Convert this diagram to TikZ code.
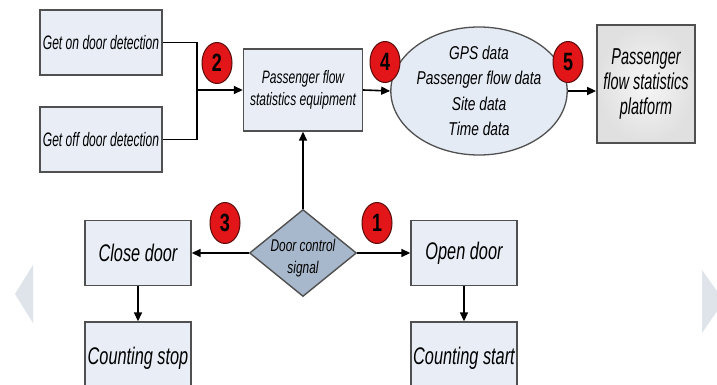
\documentclass[tikz,border=0pt]{standalone}
\usepackage{fontspec}
\setmainfont{Liberation Sans}
\newfontfamily\getfont{Liberation Sans}[FakeStretch=0.62]
\newfontfamily\equipfont{Liberation Sans}[FakeStretch=0.67]
\newfontfamily\ellfont{Liberation Sans}[FakeStretch=0.74]
\newfontfamily\platfont{Liberation Sans}[FakeStretch=0.63]
\newfontfamily\doorfont{Liberation Sans}[FakeStretch=0.68]
\newfontfamily\sigfont{Liberation Sans}[FakeStretch=0.70]
\newfontfamily\numfont{Liberation Sans}[FakeStretch=0.72]
\usetikzlibrary{shapes.geometric,arrows.meta}
\definecolor{boxfill}{RGB}{232,237,246}
\definecolor{boxline}{RGB}{80,80,80}
\definecolor{ellfill}{RGB}{228,235,245}
\definecolor{diafill}{RGB}{168,184,204}
\definecolor{numred}{RGB}{226,22,24}
\definecolor{numline}{RGB}{90,10,10}
\definecolor{chev}{RGB}{222,228,234}
\definecolor{platin}{RGB}{246,246,246}
\definecolor{platout}{RGB}{224,224,224}
\tikzset{
  box/.style={draw=boxline, line width=1.4pt, fill=boxfill, inner sep=0pt, align=center},
  conn/.style={line width=1.6pt, draw=black},
  arr/.style={conn, -{Triangle[length=9pt,width=8pt]}},
  num/.style={ellipse, draw=numline, line width=1pt, fill=numred, inner sep=0pt,
    minimum width=30pt, minimum height=41pt, font=\numfont\bfseries\fontsize{25}{25}\selectfont},
  doorbox/.style={box, minimum width=106pt, font=\doorfont\itshape\fontsize{24}{28}\selectfont},
}
\begin{document}
\begin{tikzpicture}[x=1pt,y=-1pt]
\useasboundingbox (0,0) rectangle (717,385);
\clip (0,0) rectangle (717,385);
\fill[white] (0,0) rectangle (717,385);
% background chevrons
\fill[chev] (15,294) -- (33,265) -- (33,323) -- cycle;
\fill[chev] (702,270) -- (724,301) -- (702,333) -- cycle;
% top row
\node[box, minimum width=122pt, minimum height=65pt, font=\getfont\itshape\fontsize{19.5}{22}\selectfont]
  (geton) at (101,42.5) {Get on door detection};
\node[box, minimum width=122pt, minimum height=65pt, font=\getfont\itshape\fontsize{19.5}{22}\selectfont]
  (getoff) at (101,139.5) {Get off door detection};
\coordinate (j) at (197,90);
\node[box, minimum width=119pt, minimum height=82pt, font=\equipfont\itshape\fontsize{18}{21.5}\selectfont]
  (equip) at (303,90) {Passenger flow\\statistics equipment};
\node[ellipse, draw=boxline, line width=1.3pt, fill=ellfill, inner sep=0pt,
  minimum width=142pt, minimum height=128pt, align=center,
  font=\ellfont\itshape\fontsize{18.6}{25.5}\selectfont]
  (data) at (479,91) {GPS data\\Passenger flow data\\Site data\\Time data};
\node[draw=boxline, line width=1.8pt, inner sep=0pt, minimum width=98pt, minimum height=118pt,
  shade, shading=radial, inner color=platin, outer color=platout,
  align=center, font=\platfont\itshape\fontsize{23}{25}\selectfont]
  (plat) at (646,84) {Passenger\\flow statistics\\platform};
% bottom row
\node[diamond, draw=boxline, line width=1.4pt, fill=diafill, inner sep=0pt,
  minimum width=107pt, minimum height=87pt] (sig) at (303,253) {};
\node[align=center, inner sep=0pt, font=\sigfont\itshape\fontsize{17}{22}\selectfont]
  (sigtext) at (303,258) {Door control\\signal};
\node[doorbox, minimum height=65pt] (close) at (138,253) {Close door};
\node[doorbox, minimum height=65pt] (open) at (464,253) {Open door};
\node[doorbox, minimum height=72pt] (cstop) at (138,358) {Counting stop};
\node[doorbox, minimum height=72pt] (cstart) at (464,358) {Counting start};
% connectors
\draw[conn] (geton.east) -| (j) |- (getoff.east);
\draw[arr] (j) -- (equip.west);
\draw[arr] (equip.east) -- (data.west);
\draw[arr] (data.east) -- (data.east -| plat.west);
\draw[arr] (sig.north) -- (equip.south);
\draw[arr] (sig.west) -- (close.east);
\draw[arr] (sig.east) -- (open.west);
\draw[arr] (close.south) -- (cstop.north);
\draw[arr] (open.south) -- (cstart.north);
% numbers
\node[num] (n2) at (217,63) {2};
\node[num] (n4) at (385,62) {4};
\node[num] (n5) at (568,62) {5};
\node[num] (n3) at (225,223) {3};
\node[num] (n1) at (377,223) {1};
\end{tikzpicture}
\end{document}
